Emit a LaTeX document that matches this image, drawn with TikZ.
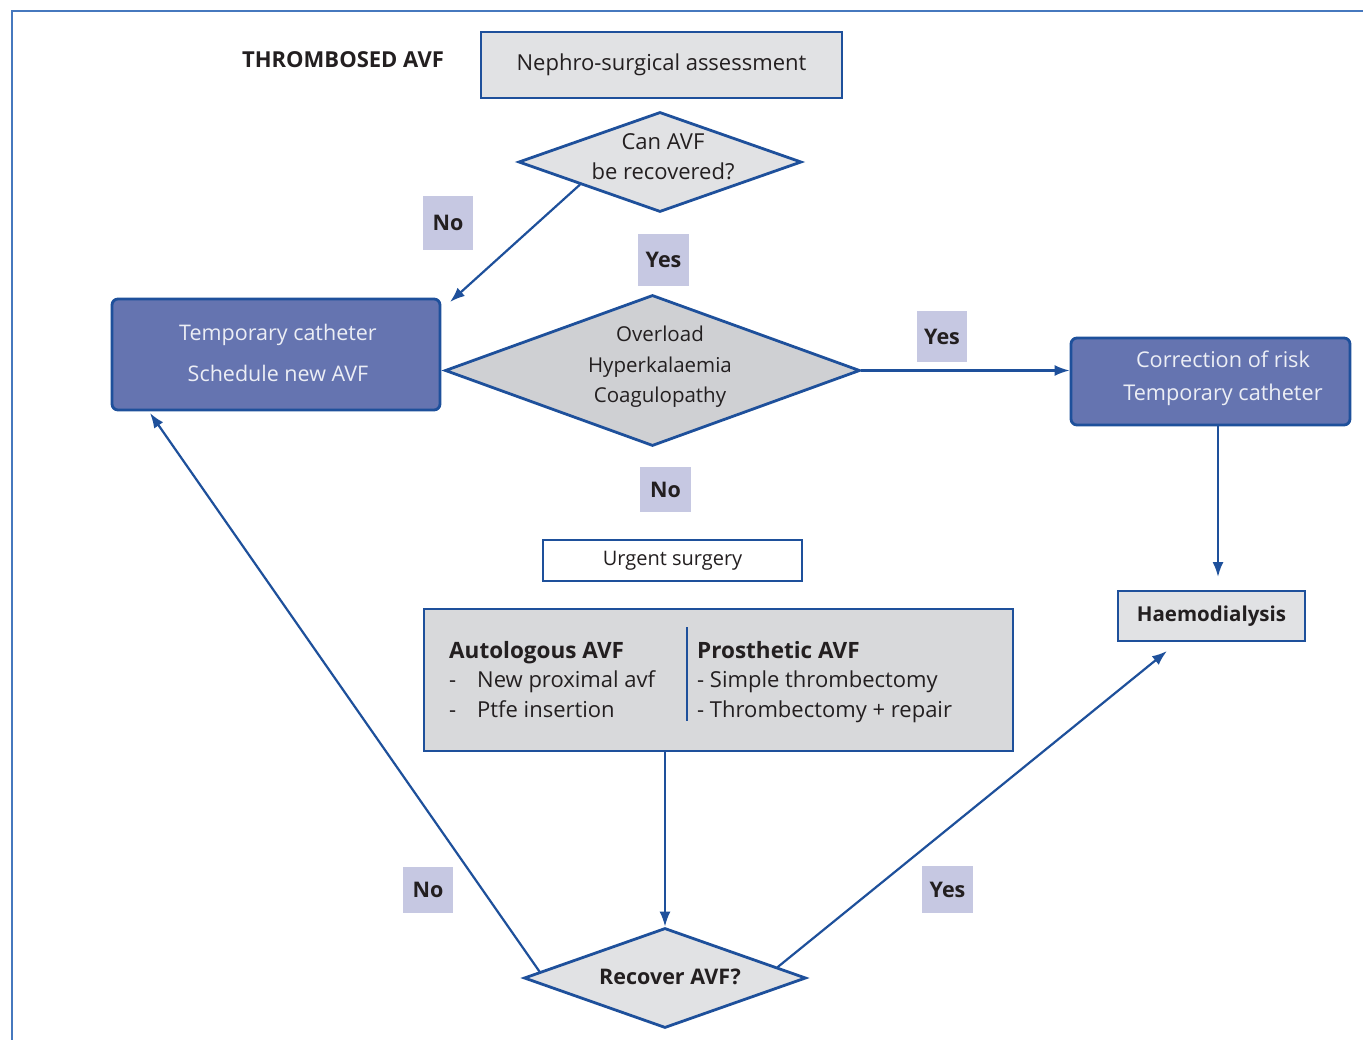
\documentclass[tikz,border=0pt]{standalone}
\usepackage{fontspec}
\setmainfont{Open Sans}
\usetikzlibrary{shapes.geometric,arrows.meta,calc}
\definecolor{bl}{RGB}{30,80,155}
\definecolor{frame}{RGB}{70,120,190}
\definecolor{lg}{RGB}{225,226,228}
\definecolor{mg}{RGB}{207,208,211}
\definecolor{bg}{RGB}{216,217,219}
\definecolor{bfill}{RGB}{101,116,176}
\definecolor{btxt}{RGB}{236,238,245}
\definecolor{lav}{RGB}{198,200,226}
\definecolor{ink}{RGB}{35,31,32}
\begin{document}
\begin{tikzpicture}[x=1pt,y=-1pt,
  every node/.style={font=\fontsize{22}{30}\selectfont, text=ink, inner sep=0pt},
  box/.style={draw=bl, line width=2.8pt, fill=lg},
  bbox/.style={draw=bl, line width=2.8pt, fill=bfill, rounded corners=6pt},
  btext/.style={text=btxt, align=center},
  dia/.style={diamond, draw=bl, line width=2.8pt},
  lab/.style={fill=lav, font=\bfseries\fontsize{21.5}{24}\selectfont},
  arr/.style={draw=bl, line width=2.2pt, -{Latex[length=15pt,width=11pt]}}
]
\useasboundingbox (0,0) rectangle (1363,1040);
\fill[white] (0,0) rectangle (1363,1040);
\draw[frame, line width=1.2pt] (12,1040) -- (12,11) -- (1363,11);

\node[font=\bfseries\fontsize{22}{24}\selectfont] (title) at (343,60) {THROMBOSED AVF};
\node[box, minimum width=361, minimum height=66] (na) at (661.5,65) {Nephro-surgical assessment};

\node[dia, fill=lg, minimum width=283, minimum height=100] (d1) at (660,162) {};
\node[align=center] (d1t) at (663,157) {Can AVF\\be recovered?};

\node[bbox, minimum width=328, minimum height=111] (lb) at (276,354.5) {};
\node[btext, font=\fontsize{21.5}{41}\selectfont] (lbt) at (278,353) {Temporary catheter\\Schedule new AVF};

\node[dia, fill=mg, minimum width=415, minimum height=151] (d2) at (652.5,370.5) {};
\node[align=center, font=\fontsize{20.5}{30.5}\selectfont] (d2t) at (660,367) {Overload\\Hyperkalaemia\\Coagulopathy};

\node[bbox, minimum width=279, minimum height=87] (rb) at (1210.5,381.5) {};
\node[btext, font=\fontsize{21.7}{33}\selectfont] (rbt) at (1223,378) {Correction of risk\\Temporary catheter};

\node[box, minimum width=187, minimum height=50, font=\bfseries\fontsize{20.5}{24}\selectfont] (hd) at (1211.5,616) {Haemodialysis};
\node[box, fill=white, minimum width=259, minimum height=41, font=\fontsize{20}{24}\selectfont] (us) at (672.5,560.5) {Urgent surgery};

\node[box, fill=bg, minimum width=589, minimum height=142] (bb) at (718.5,680) {};
\draw[bl, line width=1.3pt] (687,627) -- (687,721);
\node[anchor=base west, font=\bfseries\fontsize{22.5}{24}\selectfont] (t1) at (449,658) {Autologous AVF};
\node[anchor=base west] (t2) at (449,687) {-};
\node[anchor=base west] (t2b) at (477,687) {New proximal avf};
\node[anchor=base west] (t3) at (449,717) {-};
\node[anchor=base west] (t3b) at (477,717) {Ptfe insertion};
\node[anchor=base west, font=\bfseries\fontsize{22.5}{24}\selectfont] (p1) at (697,658) {Prosthetic AVF};
\node[anchor=base west] (p2) at (697,687) {- Simple thrombectomy};
\node[anchor=base west] (p3) at (697,717) {- Thrombectomy + repair};

\node[dia, fill=lg, minimum width=282, minimum height=100] (d3) at (665,978) {};
\node[font=\bfseries\fontsize{21.5}{24}\selectfont] (d3t) at (670,977) {Recover AVF?};

\node[lab, minimum width=50, minimum height=54] (no1) at (448,223) {No};
\node[lab, minimum width=51, minimum height=52] (yes1) at (663.5,260) {Yes};
\node[lab, minimum width=50, minimum height=51] (yes2) at (942,336.5) {Yes};
\node[lab, minimum width=51, minimum height=45] (no2) at (665.5,489.5) {No};
\node[lab, minimum width=50, minimum height=46] (no3) at (428,890) {No};
\node[lab, minimum width=51, minimum height=47] (yes3) at (947.5,889.5) {Yes};

\coordinate (e1) at (450,302);
\coordinate (e3) at (1218,577);
\coordinate (e5) at (150,413);
\coordinate (e6) at (1167,651);

\draw[arr] ($(d1.west)!0.44!(d1.south)$) -- (e1);
\draw[arr] (d2.east) -- (d2.east -| rb.west);
\draw[arr] (e3 |- rb.south) -- (e3);
\draw[arr] (d3.north |- bb.south) -- (d3.north);
\draw[arr] ($(d3.west)!0.12!(d3.north)$) -- (e5);
\draw[arr] ($(d3.east)!0.21!(d3.north)$) -- (e6);
\end{tikzpicture}
\end{document}
